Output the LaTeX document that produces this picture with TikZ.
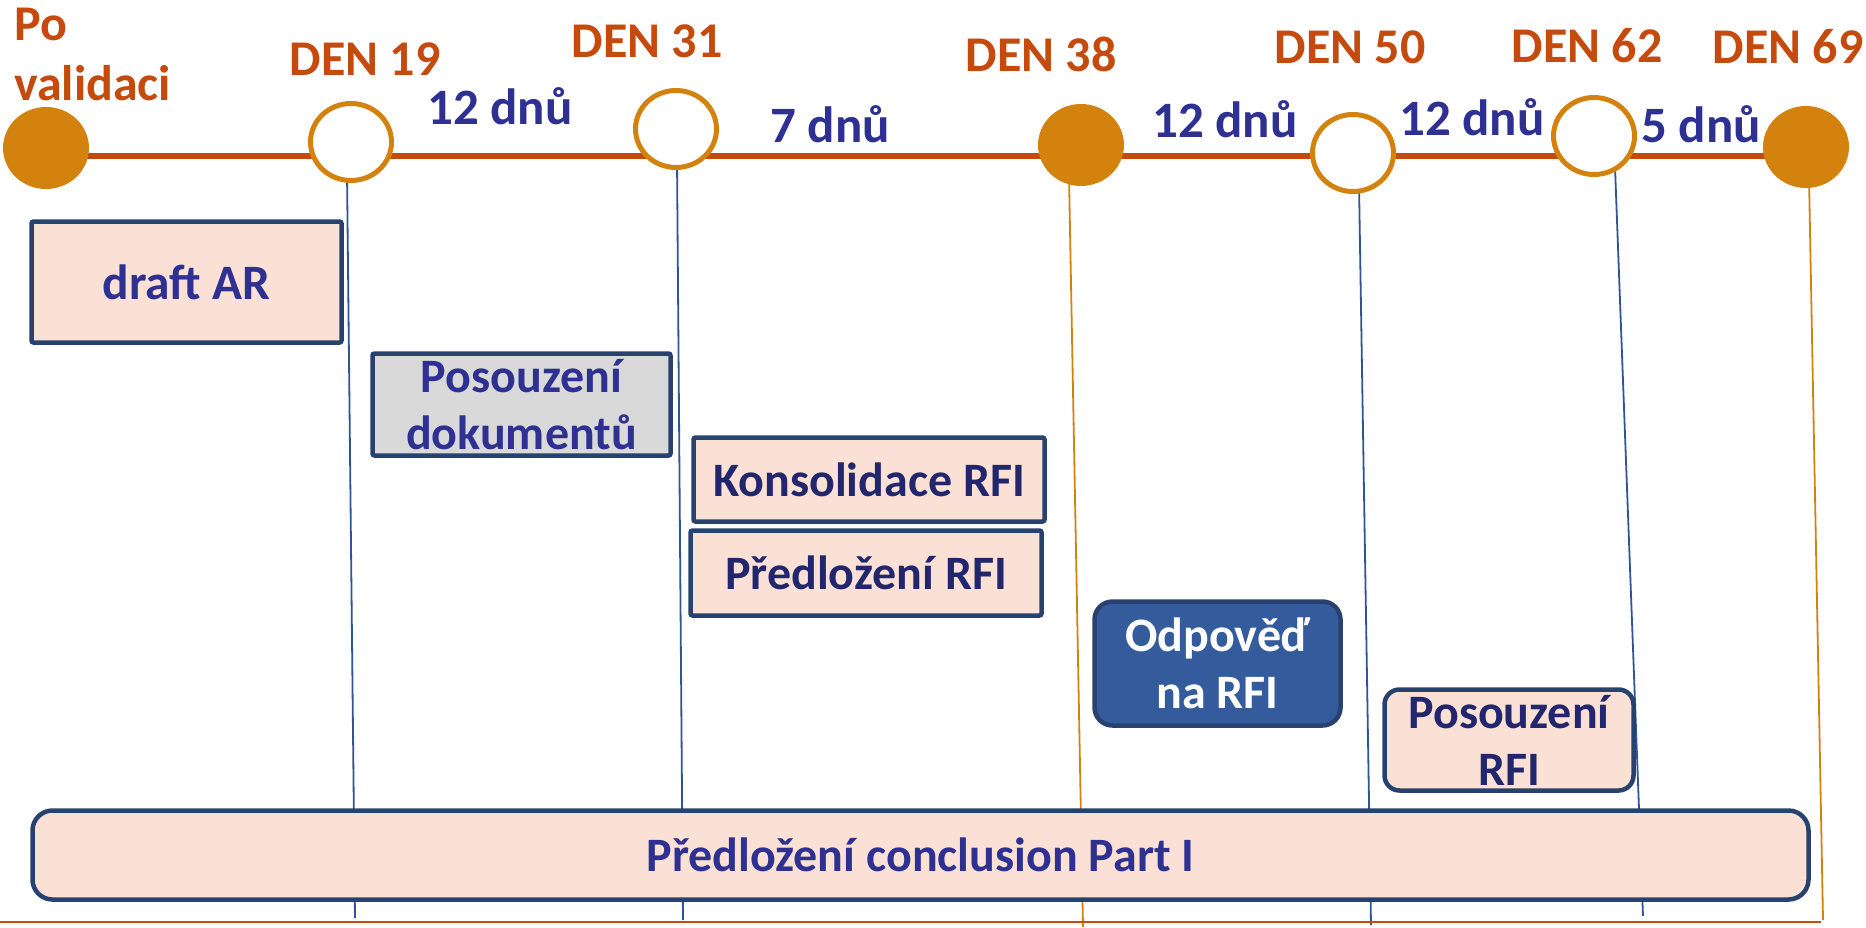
\documentclass[tikz,border=0pt]{standalone}
\usepackage{fontspec}
\setmainfont{Carlito}
\usetikzlibrary{backgrounds,shapes.geometric}

\definecolor{rust}{RGB}{197,74,14}
\definecolor{amber}{RGB}{212,130,14}
\definecolor{ink}{RGB}{46,49,146}
\definecolor{deepink}{RGB}{34,38,108}
\definecolor{frame}{RGB}{40,66,112}
\definecolor{peach}{RGB}{251,224,214}
\definecolor{greybox}{RGB}{217,217,217}
\definecolor{steel}{RGB}{52,92,156}
\definecolor{guide}{RGB}{47,85,151}

\tikzset{
  fullmark/.style={ellipse, fill=amber, minimum width=86pt, minimum height=82pt, inner sep=0pt},
  openmark/.style={ellipse, fill=white, draw=amber, line width=5pt, minimum width=81pt, minimum height=77pt, inner sep=0pt},
  daylabel/.style={anchor=base, text=rust, font=\bfseries\fontsize{50}{60}\selectfont, inner sep=0pt},
  spanlabel/.style={anchor=base, text=ink, font=\bfseries\fontsize{51}{60}\selectfont, inner sep=0pt},
  timeline/.style={draw=rust, line width=6pt},
  blueguide/.style={draw=guide, line width=1.8pt},
  amberguide/.style={draw=amber, line width=1.8pt},
  taskbox/.style={draw=frame, line width=4.5pt, fill=peach, text=ink, align=center, inner sep=0pt,
    rounded corners=2pt, font=\bfseries\fontsize{48}{57}\selectfont},
}

\begin{document}
\begin{tikzpicture}[x=1pt,y=-1pt]
\useasboundingbox (0,0) rectangle (1866,927);

% milestones along the time axis
\node[fullmark] (c0)  at (46,148)   {};
\node[openmark] (c19) at (351,142)  {};
\node[openmark] (c31) at (676,129)  {};
\node[fullmark] (c38) at (1081,145) {};
\node[openmark] (c50) at (1353,153) {};
\node[openmark] (c62) at (1594,136) {};
\node[fullmark] (c69) at (1806,147) {};

% lower ends of the guide lines
\coordinate (tl)  at (0,156);
\coordinate (b19) at (355,918);
\coordinate (b31) at (683,920);
\coordinate (b38) at (1083,927);
\coordinate (b50) at (1371,925);
\coordinate (b62) at (1643,916);
\coordinate (b69) at (1823,920);
\coordinate (fl)  at (0,922);
\coordinate (fr)  at (1821,922);

\begin{scope}[on background layer]
  \draw[timeline] (c0.center |- tl) -- (c69.center |- tl);
  \draw[blueguide]  ([xshift=-4pt,yshift=10pt]c19.south) -- (b19);
  \draw[blueguide]  ([xshift=1pt,yshift=10pt]c31.south) -- (b31);
  \draw[amberguide] ([xshift=-12pt,yshift=10pt]c38.south) -- (b38);
  \draw[blueguide]  ([xshift=6pt,yshift=10pt]c50.south) -- (b50);
  \draw[blueguide]  ([xshift=21pt,yshift=10pt]c62.south) -- (b62);
  \draw[amberguide] ([xshift=3pt,yshift=10pt]c69.south) -- (b69);
  \draw[draw=rust, line width=2pt] (fl) -- (fr);
\end{scope}

% day labels
\node[daylabel, anchor=base west, align=left] (lstart) at (14,100) {Po\\validaci};
\node[daylabel] (l19) at (365,75) {DEN 19};
\node[daylabel] (l31) at (647,57) {DEN 31};
\node[daylabel] (l38) at (1041,71) {DEN 38};
\node[daylabel] (l50) at (1350,63) {DEN 50};
\node[daylabel] (l62) at (1587,62) {DEN 62};
\node[daylabel] (l69) at (1788,63) {DEN 69};

% interval labels
\node[spanlabel] (s1) at (500,124)  {12 dnů};
\node[spanlabel] (s2) at (830,142)  {7 dnů};
\node[spanlabel] (s3) at (1225,137) {12 dnů};
\node[spanlabel] (s4) at (1472,135) {12 dnů};
\node[spanlabel] (s5) at (1701,142) {5 dnů};

% tasks
\node[taskbox, minimum width=310pt, minimum height=121pt, font=\bfseries\fontsize{49.5}{57}\selectfont] (draft) at (186.5,282) {draft AR};
\node[taskbox, fill=greybox, minimum width=298pt, minimum height=102pt] (revdoc) at (521.5,404.5) {Posouzení\\dokumentů};
\node[taskbox, text=deepink, minimum width=351pt, minimum height=84pt] (consol) at (869,479.5) {Konsolidace RFI};
\node[taskbox, text=deepink, minimum width=351pt, minimum height=85pt] (submit) at (866,573) {Předložení RFI};
\node[taskbox, fill=steel, text=white, rounded corners=18pt, minimum width=246pt, minimum height=124pt] (answer) at (1217.5,663.5) {Odpověď\\na RFI};
\node[taskbox, text=deepink, rounded corners=15pt, minimum width=249pt, minimum height=101pt] (revrfi) at (1509,740) {Posouzení\\RFI};
\node[taskbox, rounded corners=20pt, minimum width=1776pt, minimum height=89pt] (concl) at (920.5,855) {Předložení conclusion Part I};
\end{tikzpicture}
\end{document}
